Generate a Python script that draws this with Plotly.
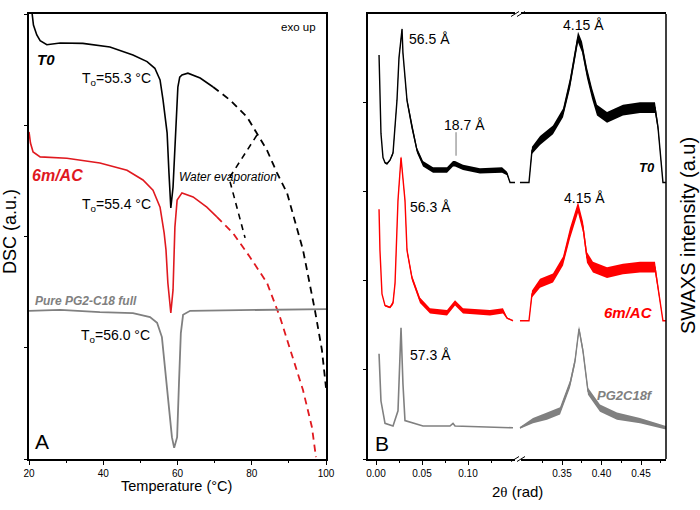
import plotly.graph_objects as go
import numpy as np

# ---------------- Panel A: DSC (temperature in °C, heat flow in a.u.) ----------------
t0_T = [20.3, 20.8, 21.2, 22.1, 23.0, 24.8, 28.4, 34.5, 41.8, 48.0, 51.8, 53.9, 55.3, 56.1, 56.6,
        57.2, 57.7, 58.2, 58.8, 59.6, 60.1, 60.6, 61.2, 62.8, 66.1, 69.6]
t0_v = [10.4, 9.99, 9.75, 9.53, 9.40, 9.31, 9.35, 9.34, 9.26, 9.08, 8.93, 8.78, 8.52, 8.07, 7.73,
        7.33, 6.43, 5.64, 6.11, 7.33, 8.36, 8.58, 8.63, 8.67, 8.56, 8.36]
t0_dash_T = [69.6, 74.1, 78.7, 81.4, 84.1, 86.8, 89.5, 93.8, 97.0, 98.9, 99.7, 100.0]
t0_dash_v = [8.36, 8.07, 7.69, 7.33, 6.94, 6.43, 5.98, 4.70, 3.35, 2.45, 1.90, 1.60]

ac_T = [20.0, 20.4, 21.1, 23.0, 30.2, 39.1, 46.4, 50.7, 53.4, 55.3, 56.4, 56.9, 57.4, 58.2, 58.8,
        59.1, 59.3, 59.9, 61.2, 64.2, 67.9, 70.6]
ac_v = [7.35, 7.10, 6.90, 6.79, 6.76, 6.65, 6.49, 6.27, 6.04, 5.66, 5.08, 4.70, 3.96, 3.28, 3.80,
        4.70, 5.21, 5.82, 5.98, 5.89, 5.66, 5.44]
ac_dash_T = [70.6, 74.9, 79.5, 84.1, 87.6, 91.1, 93.8, 96.2, 97.3]
ac_dash_v = [5.44, 5.08, 4.54, 3.96, 3.19, 2.29, 1.55, 0.72, 0.04]

pg_T = [20.0, 28.4, 39.1, 48.0, 52.6, 54.5, 55.8, 56.6, 57.4, 58.5, 59.1, 59.9, 60.4, 60.9, 61.5,
        63.4, 100.0]
pg_v = [3.33, 3.35, 3.30, 3.28, 3.19, 3.06, 2.74, 2.07, 1.33, 0.49, 0.25, 0.49, 1.71, 2.83, 3.24,
        3.33, 3.37]

evap_T = [81.4, 73.9, 78.2]
evap_v = [7.28, 6.31, 4.97]

# ---------------- Panel B: SWAXS (2θ in rad, intensity in a.u.) ----------------
# small-angle part (left of the axis break)
t0_l_x = [0.0033, 0.0043, 0.0054, 0.0076, 0.0098, 0.0120, 0.0152, 0.0185, 0.0228, 0.0250, 0.0272,
          0.0283, 0.0293, 0.0304, 0.0337, 0.0391, 0.0446, 0.0511, 0.0620, 0.0772, 0.0837, 0.0859,
          0.0946, 0.1130, 0.1370, 0.1424, 0.1457, 0.1511]
t0_l_y = [4.53, 3.90, 3.65, 3.38, 3.32, 3.31, 3.35, 3.43, 4.02, 4.50, 4.70, 4.82, 4.55, 4.39, 4.02,
          3.72, 3.46, 3.31, 3.24, 3.24, 3.31, 3.31, 3.27, 3.23, 3.24, 3.20, 3.10, 3.10]
t0_l_n = [0, 0, 0, 0, 0.01, 0.01, 0.01, 0.02, 0.02, 0.02, 0.02, 0.02, 0.02, 0.02, 0.03, 0.03, 0.03,
          0.03, 0.03, 0.03, 0.03, 0.03, 0.03, 0.03, 0.03, 0.02, 0, 0]

ac_l_x = [0.0033, 0.0043, 0.0065, 0.0098, 0.0152, 0.0185, 0.0207, 0.0239, 0.0272, 0.0315, 0.0337,
          0.0391, 0.0478, 0.0587, 0.0772, 0.0859, 0.0946, 0.1239, 0.1380, 0.1424, 0.1489]
ac_l_y = [2.80, 2.34, 1.85, 1.72, 1.70, 1.75, 1.97, 2.90, 3.38, 2.90, 2.34, 2.03, 1.78, 1.66, 1.64,
          1.75, 1.66, 1.64, 1.66, 1.58, 1.55]
ac_l_n = [0, 0, 0, 0.01, 0.01, 0.02, 0.02, 0.02, 0.02, 0.02, 0.03, 0.03, 0.03, 0.03, 0.03, 0.03,
          0.03, 0.03, 0.03, 0.01, 0]

pg_l_x = [0.0033, 0.0054, 0.0098, 0.0185, 0.0239, 0.0261, 0.0272, 0.0293, 0.0315, 0.0511, 0.0804,
          0.0837, 0.0859, 0.1489]
pg_l_y = [1.18, 0.65, 0.40, 0.37, 0.54, 1.21, 1.47, 0.84, 0.43, 0.37, 0.37, 0.40, 0.37, 0.35]

# wide-angle part (right of the axis break)
t0_r_x = [0.2968, 0.3082, 0.3120, 0.3222, 0.3386, 0.3513, 0.3601, 0.3665, 0.3703, 0.3753, 0.3816,
          0.3880, 0.3943, 0.4070, 0.4272, 0.4487, 0.4677, 0.4715, 0.4766, 0.4778, 0.4816]
t0_r_y = [3.10, 3.10, 3.46, 3.57, 3.69, 3.88, 4.21, 4.51, 4.73, 4.62, 4.33, 4.10, 3.91, 3.83, 3.91,
          3.94, 3.94, 3.72, 3.27, 3.10, 3.10]
t0_r_n = [0, 0, 0.04, 0.05, 0.05, 0.05, 0.06, 0.06, 0.06, 0.06, 0.06, 0.06, 0.06, 0.06, 0.06, 0.06,
          0.06, 0.04, 0.01, 0, 0]

ac_r_x = [0.2968, 0.3082, 0.3120, 0.3222, 0.3386, 0.3513, 0.3601, 0.3665, 0.3703, 0.3766, 0.3816,
          0.3892, 0.4070, 0.4272, 0.4487, 0.4677, 0.4741, 0.4778, 0.4816]
ac_r_y = [1.55, 1.55, 1.85, 1.97, 2.03, 2.22, 2.53, 2.71, 2.82, 2.60, 2.26, 2.15, 2.09, 2.13, 2.15,
          2.15, 1.78, 1.55, 1.55]
ac_r_n = [0, 0, 0.04, 0.05, 0.05, 0.05, 0.06, 0.06, 0.06, 0.06, 0.06, 0.06, 0.06, 0.06, 0.06, 0.06,
          0.03, 0, 0]

pg_r_x = [0.2968, 0.3133, 0.3310, 0.3475, 0.3601, 0.3665, 0.3715, 0.3766, 0.3829, 0.3981, 0.4196,
          0.4487, 0.4816]
pg_r_y = [0.35, 0.43, 0.48, 0.54, 0.84, 1.10, 1.46, 1.21, 0.76, 0.57, 0.48, 0.43, 0.35]
pg_r_n = [0.01, 0.03, 0.04, 0.04, 0.04, 0.04, 0.03, 0.04, 0.04, 0.04, 0.04, 0.03, 0.02]

# tick values
dsc_x_major = [20, 40, 60, 80, 100]
dsc_x_minor = [30, 50, 70, 90]
dsc_y_left = [0, 2.5, 5, 7.5, 10]
dsc_y_right = [1, 2, 3, 4, 5, 6, 7, 8, 9]
sw_l_major = [0.00, 0.05, 0.10]
sw_l_minor = [0.025, 0.075, 0.125]
sw_r_major = [0.35, 0.40, 0.45]
sw_r_minor = [0.325, 0.375, 0.425, 0.475]
sw_y = [0, 1, 2, 3, 4]

BLACK = "#000000"
RED_DSC = "#e0191f"
RED = "#ff0000"
GRAY = "#808080"
FONT = "Liberation Sans, Arial, sans-serif"

fig = go.Figure()

# ---- DSC traces ----
fig.add_trace(go.Scatter(x=t0_T, y=t0_v, mode="lines", line=dict(color=BLACK, width=1.6),
                         xaxis="x", yaxis="y"))
fig.add_trace(go.Scatter(x=t0_dash_T, y=t0_dash_v, mode="lines",
                         line=dict(color=BLACK, width=1.8, dash="7px,5px"), xaxis="x", yaxis="y"))
fig.add_trace(go.Scatter(x=ac_T, y=ac_v, mode="lines", line=dict(color=RED_DSC, width=1.6),
                         xaxis="x", yaxis="y"))
fig.add_trace(go.Scatter(x=ac_dash_T, y=ac_dash_v, mode="lines",
                         line=dict(color=RED_DSC, width=1.8, dash="7px,5px"), xaxis="x", yaxis="y"))
fig.add_trace(go.Scatter(x=pg_T, y=pg_v, mode="lines", line=dict(color=GRAY, width=1.8),
                         xaxis="x", yaxis="y"))
fig.add_trace(go.Scatter(x=evap_T, y=evap_v, mode="lines",
                         line=dict(color=BLACK, width=1.6, dash="6px,5px"), xaxis="x", yaxis="y"))


# ---- SWAXS traces (noisy band + centre line) ----
def add_band(x, y, n, color, xa, width):
    x = np.asarray(x)
    y = np.asarray(y)
    if n is not None:
        n = np.asarray(n)
        fig.add_trace(go.Scatter(x=x, y=y - n, mode="lines", line=dict(width=0, color=color),
                                 xaxis=xa, yaxis="y2", hoverinfo="skip"))
        fig.add_trace(go.Scatter(x=x, y=y + n, mode="lines", line=dict(width=0, color=color),
                                 fill="tonexty", fillcolor=color, xaxis=xa, yaxis="y2",
                                 hoverinfo="skip"))
    fig.add_trace(go.Scatter(x=x, y=y, mode="lines", line=dict(color=color, width=width),
                             xaxis=xa, yaxis="y2"))


add_band(t0_l_x, t0_l_y, t0_l_n, BLACK, "x2", 1.4)
add_band(t0_r_x, t0_r_y, t0_r_n, BLACK, "x3", 1.4)
add_band(ac_l_x, ac_l_y, ac_l_n, RED, "x2", 1.4)
add_band(ac_r_x, ac_r_y, ac_r_n, RED, "x3", 1.4)
add_band(pg_l_x, pg_l_y, None, GRAY, "x2", 1.6)
add_band(pg_r_x, pg_r_y, pg_r_n, GRAY, "x3", 1.4)

# ---- axes ----
dL = [29 / 700, 326 / 700]
dY = [51 / 510, 496 / 510]
d2 = [368 / 700, 518 / 700]
d3 = [518 / 700, 666 / 700]
tickfont = dict(family=FONT, size=10, color=BLACK)

common_x = dict(showline=True, linecolor=BLACK, linewidth=1.5, ticks="outside", ticklen=4,
                tickwidth=1, tickcolor=BLACK, showgrid=False, zeroline=False, tickfont=tickfont,
                mirror=True, automargin=False)

fig.update_layout(
    template="none",
    width=700, height=510,
    margin=dict(l=0, r=0, t=0, b=0, pad=0, autoexpand=False),
    paper_bgcolor="white", plot_bgcolor="white",
    showlegend=False,
    font=dict(family=FONT, color=BLACK),
    xaxis=dict(domain=dL, range=[20, 100], anchor="y", tickvals=dsc_x_major,
               ticktext=[str(v) for v in dsc_x_major],
               minor=dict(tickvals=dsc_x_minor, ticks="outside", ticklen=2, tickcolor=BLACK),
               **common_x),
    yaxis=dict(domain=dY, range=[0, 10], anchor="x", showline=True, linecolor=BLACK, linewidth=1.5,
               mirror=True, ticks="outside", ticklen=3, tickcolor=BLACK, tickvals=dsc_y_left,
               showticklabels=False, showgrid=False, zeroline=False, automargin=False),
    yaxis3=dict(domain=dY, range=[0, 10], anchor="x", overlaying="y", side="right",
                showline=False, ticks="inside", ticklen=3, tickcolor=BLACK, tickvals=dsc_y_right,
                showticklabels=False, showgrid=False, zeroline=False, automargin=False),
    xaxis2=dict(domain=d2, range=[-(376 - 368) / 920, (518 - 376) / 920], anchor="y2",
                tickvals=sw_l_major, ticktext=["0.00", "0.05", "0.10"],
                minor=dict(tickvals=sw_l_minor, ticks="outside", ticklen=2, tickcolor=BLACK),
                **common_x),
    xaxis3=dict(domain=d3, range=[0.35 - (562 - 518) / 790, 0.45 + (666 - 641) / 790], anchor="y2",
                tickvals=sw_r_major, ticktext=["0.35", "0.40", "0.45"],
                minor=dict(tickvals=sw_r_minor, ticks="outside", ticklen=2, tickcolor=BLACK),
                **common_x),
    yaxis2=dict(domain=dY, range=[0, 444 / 89], anchor="x2", showline=True, linecolor=BLACK,
                linewidth=1.5, ticks="outside", ticklen=3, tickcolor=BLACK, tickvals=sw_y,
                showticklabels=False, showgrid=False, zeroline=False, automargin=False),
)

# right frame edge of panel B and axis-break marks
shapes = [dict(type="line", xref="paper", yref="paper", x0=d3[1], x1=d3[1], y0=dY[0], y1=dY[1],
               line=dict(color=BLACK, width=1.5))]
for yb in (dY[0], dY[1]):
    shapes.append(dict(type="rect", xref="paper", yref="paper", x0=515 / 700, x1=521 / 700,
                       y0=yb - 2 / 510, y1=yb + 2 / 510, fillcolor="white",
                       line=dict(width=0)))
    for off in (-3, 3):
        cx = (518 + off) / 700
        shapes.append(dict(type="line", xref="paper", yref="paper",
                           x0=cx - 4 / 700, x1=cx + 4 / 700, y0=yb - 2.5 / 510, y1=yb + 2.5 / 510,
                           line=dict(color=BLACK, width=1)))
fig.update_layout(shapes=shapes)

ann = []


def txt(text, x, y, xref, yref, size, color=BLACK, xanchor="left", yanchor="middle",
        bold=False, italic=False, angle=0):
    s = text
    if bold:
        s = "<b>" + s + "</b>"
    if italic:
        s = "<i>" + s + "</i>"
    ann.append(dict(text=s, x=x, y=y, xref=xref, yref=yref, showarrow=False,
                    font=dict(family=FONT, size=size, color=color), xanchor=xanchor,
                    yanchor=yanchor, textangle=angle))


# panel A texts
txt("exo up", 97.8, 9.71, "x", "y", 11.5, xanchor="right")
txt("T0", 21.6, 8.97, "x", "y", 15, bold=True, italic=True)
txt("T<sub>o</sub>=55.3 °C", 33.7, 8.54, "x", "y", 14)
txt("6m/AC", 20.3, 6.38, "x", "y", 16, color=RED_DSC, bold=True, italic=True)
txt("Water evaporation", 59.9, 6.34, "x", "y", 12, italic=True)
txt("T<sub>o</sub>=55.4 °C", 33.7, 5.71, "x", "y", 14)
txt("Pure PG2-C18 full", 21.1, 3.55, "x", "y", 12, color=GRAY, bold=True, italic=True)
txt("T<sub>o</sub>=56.0 °C", 33.5, 2.76, "x", "y", 14)
txt("A", 21.0, 0.40, "x", "y", 21)
txt("DSC (a.u.)", 10 / 700, (510 - 232) / 510, "paper", "paper", 18, xanchor="center", angle=-90)
txt("Temperature (°C)", 177 / 700, (510 - 486) / 510, "paper", "paper", 14.5, xanchor="center")

# panel B texts
txt("56.5 Å", 0.0337, 4.71, "x2", "y2", 14)
txt("18.7 Å", 0.0967, 3.74, "x2", "y2", 14, xanchor="center")
txt("4.15 Å", 0.3778, 4.87, "x3", "y2", 14, xanchor="center")
txt("T0", 0.4703, 3.27, "x3", "y2", 13, bold=True, italic=True, xanchor="right")
txt("56.3 Å", 0.0348, 2.82, "x2", "y2", 14)
txt("4.15 Å", 0.3791, 2.93, "x3", "y2", 14, xanchor="center")
txt("6m/AC", 0.4677, 1.64, "x3", "y2", 15, color=RED, bold=True, italic=True, xanchor="right")
txt("57.3 Å", 0.0348, 1.17, "x2", "y2", 14)
txt("PG2C18f", 0.4677, 0.71, "x3", "y2", 13, color=GRAY, bold=True, italic=True, xanchor="right")
txt("B", -0.0035, 0.17, "x2", "y2", 21)
txt("SWAXS intensity (a.u)", 688 / 700, (510 - 236) / 510, "paper", "paper", 20,
    xanchor="center", angle=-90)
txt("2<span style='font-family:Liberation Serif'>θ</span> (rad)", 517 / 700, (510 - 491) / 510,
    "paper", "paper", 15, xanchor="center")

# pointer for the 18.7 Å reflection
ann.append(dict(text="", x=0.0870, y=3.40, xref="x2", yref="y2", ax=0.0870, ay=3.68,
                axref="x2", ayref="y2", showarrow=True, arrowhead=0, arrowwidth=0.8,
                arrowcolor="#555555", standoff=0, startstandoff=0))

fig.update_layout(annotations=ann)

fig.write_html("out.html", config={"displayModeBar": False},
               post_script="document.body.style.margin='0px';")
